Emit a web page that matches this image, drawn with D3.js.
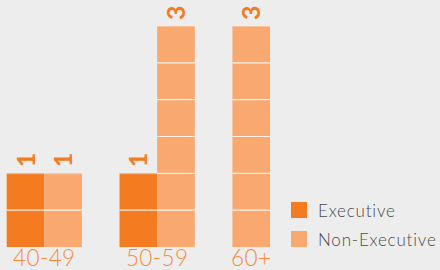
<!DOCTYPE html>
<html><head><meta charset="utf-8">
<script src="https://cdn.jsdelivr.net/npm/d3@7"></script>
<style>html,body{margin:0;padding:0;background:#ededed;}svg{display:block;}</style>
</head><body><svg id="c" width="440" height="270"></svg>
<script>
const categories = ["40-49", "50-59", "60+"];
const seriesNames = ["Executive", "Non-Executive"];
const executive = [1, 1, 0];
const nonExecutive = [1, 3, 3];
const yTicks = [0, 0.5, 1, 1.5, 2, 2.5, 3];
const colors = {"Executive": "#f47b20", "Non-Executive": "#f9a96f"};

const svg = d3.select("#c");
svg.append("rect").attr("width", 440).attr("height", 270).attr("fill", "#ededed");

const bars = [];
const slots = [];
categories.forEach((c, i) => {
  if (i > 0) slots.push("gap" + i);
  [executive[i], nonExecutive[i]].forEach((v, s) => {
    if (v > 0) {
      const key = c + "|" + seriesNames[s];
      slots.push(key);
      bars.push({cat: c, series: seriesNames[s], value: v, key});
    }
  });
});

const x = d3.scaleBand().domain(slots).range([6.7, 270]).padding(0);
const y = d3.scaleLinear().domain([0, 3]).range([247, 26]);

const g = svg.append("g");
g.selectAll("rect.bar").data(bars).join("rect")
  .attr("class", "bar")
  .attr("x", d => x(d.key))
  .attr("width", x.bandwidth())
  .attr("y", d => y(d.value))
  .attr("height", d => y(0) - y(d.value))
  .attr("fill", d => colors[d.series]);

bars.forEach(d => {
  yTicks.filter(t => t > 0 && t < d.value).forEach(t => {
    g.append("line")
      .attr("x1", x(d.key)).attr("x2", x(d.key) + x.bandwidth())
      .attr("y1", y(t)).attr("y2", y(t))
      .attr("stroke", "#fff").attr("stroke-width", 1.2).attr("opacity", 0.85);
  });
  g.append("line")
    .attr("x1", x(d.key)).attr("x2", x(d.key) + x.bandwidth())
    .attr("y1", y(d.value) + 0.5).attr("y2", y(d.value) + 0.5)
    .attr("stroke", "#fff").attr("stroke-width", 1).attr("opacity", 0.3);
});

g.selectAll("g.lbl").data(bars).join("g")
  .attr("class", "lbl")
  .attr("transform", d => `translate(${x(d.key) + x.bandwidth() / 2},${y(d.value) - 6}) rotate(-90)`)
  .append("text")
  .attr("x", 0).attr("y", "0.36em")
  .attr("text-anchor", "start")
  .attr("font-family", "Lato, 'Open Sans', sans-serif")
  .attr("font-weight", 700)
  .attr("font-size", 25)
  .attr("fill", "#f47b20")
  .text(d => d.value);

categories.forEach(c => {
  const keys = slots.filter(k => k.startsWith(c + "|"));
  const x0 = x(keys[0]);
  const x1 = x(keys[keys.length - 1]) + x.bandwidth();
  svg.append("text")
    .attr("x", (x0 + x1) / 2).attr("y", 266)
    .attr("text-anchor", "middle")
    .attr("font-family", "Lato, 'Open Sans', sans-serif")
    .attr("font-weight", 300)
    .attr("font-size", 22.5)
    .attr("letter-spacing", 0.4)
    .attr("fill", "#f58a3c")
    .text(c);
});

const lg = svg.append("g").attr("transform", "translate(291,202)");
seriesNames.forEach((s, i) => {
  lg.append("rect").attr("x", 0).attr("y", i * 29).attr("width", 16).attr("height", 16).attr("fill", colors[s]);
  lg.append("text").attr("x", 27).attr("y", i * 29 + 14.5)
    .attr("font-family", "Lato, 'Open Sans', sans-serif")
    .attr("font-weight", 300)
    .attr("font-size", 17)
    .attr("letter-spacing", 0.8)
    .attr("fill", "#4a4a4a")
    .text(s);
});
</script></body></html>
